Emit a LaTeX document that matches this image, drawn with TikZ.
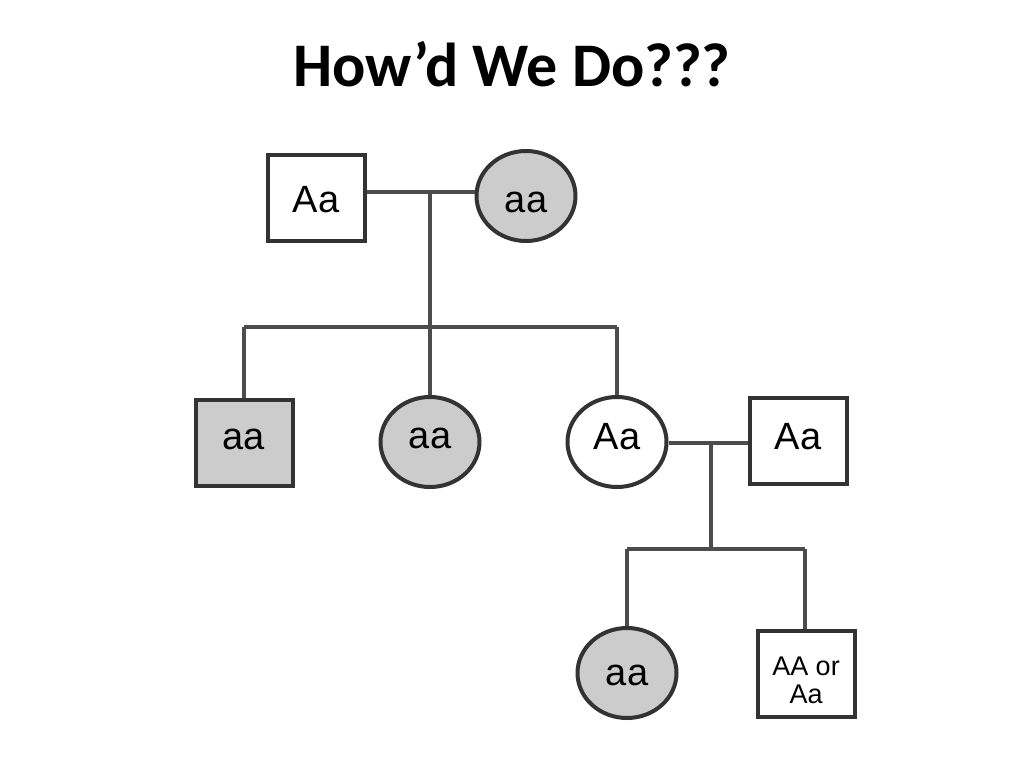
\documentclass[tikz,border=0pt]{standalone}
\usepackage{fontspec}
\setmainfont{Liberation Sans}
\newfontfamily\titlefont{Carlito}
\usetikzlibrary{shapes.geometric}
\begin{document}
\begin{tikzpicture}[x=1pt,y=-1pt,
    person/.style={draw=black!80,line width=4pt,font=\fontsize{38}{40}\selectfont},
    male/.style={person,rectangle,minimum width=97pt,minimum height=86pt},
    female/.style={person,ellipse,minimum width=99pt,minimum height=90pt},
    textbox/.style={text height=#1,text depth=0pt},
    affected/.style={fill=black!20},
    line/.style={draw=black!70,line width=3.5pt}]
  \useasboundingbox (0,0) rectangle (1024,768);
  \node (title) at (512,64) {\titlefont\bfseries\fontsize{62}{70}\selectfont How’d We Do???};
  % parents
  \node[male,textbox=28pt] (fa) at (316,198) {Aa};
  \node[female,affected,textbox=32pt] (mo) at (526,196) {aa};
  % children
  \node[male,affected,textbox=12pt] (son) at (244,443) {aa};
  \node[female,affected,textbox=12pt] (dau) at (430,442) {aa};
  \node[female,textbox=14pt] (het) at (617,442) {Aa};
  \node[male,textbox=16pt] (hus) at (798,441) {Aa};
  % grandchildren
  \node[female,affected,textbox=24pt] (gdau) at (627,673) {aa};
  \node[male] (gson) at (806,674) {};
  \node[font=\fontsize{27}{28}\selectfont,align=center] (gsontext) at ([yshift=-6pt]gson.center) {AA or\\Aa};
  \coordinate (m1) at (430,192);
  \coordinate (s1) at (430,327);
  \coordinate (m2) at (711,443);
  \coordinate (s2) at (711,549);
  \coordinate (s2r) at (805,549);
  \draw[line] (fa.east |- m1) -- (mo.west |- m1);
  \draw[line] (m1) -- (s1);
  \draw[line] (son.north |- s1) -- (het.north |- s1);
  \draw[line] (son.north |- s1) -- (son.north);
  \draw[line] (s1) -- (dau.north);
  \draw[line] (het.north |- s1) -- (het.north);
  \draw[line] (het.east |- m2) -- (hus.west |- m2);
  \draw[line] (m2) -- (s2);
  \draw[line] (gdau.north |- s2) -- (s2r);
  \draw[line] (gdau.north |- s2) -- (gdau.north);
  \draw[line] (s2r) -- (s2r |- gson.north);
\end{tikzpicture}
\end{document}
